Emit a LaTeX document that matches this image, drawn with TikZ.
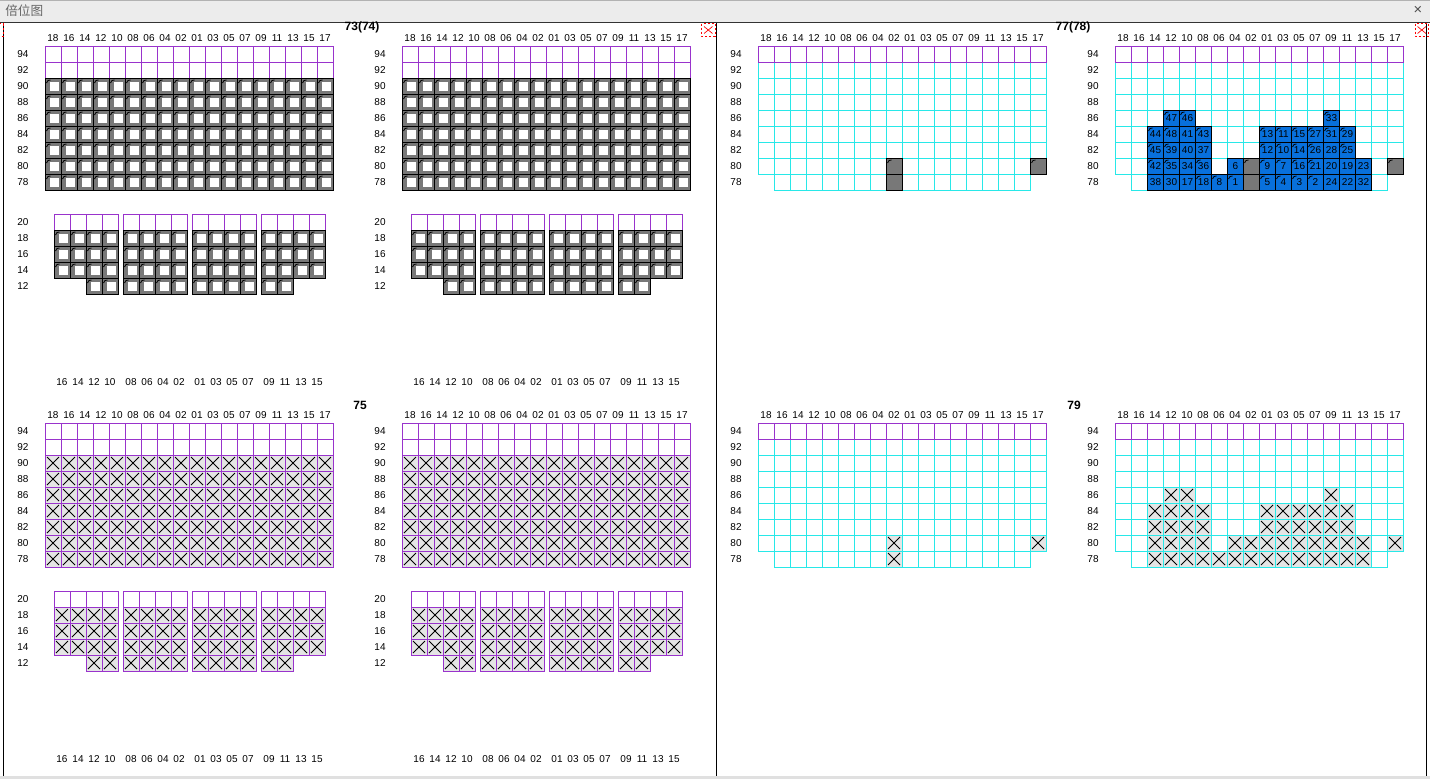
\documentclass[tikz,border=0pt]{standalone}
\usepackage{fontspec}
\setmainfont{Liberation Sans}
\newfontfamily\cjkfont{Noto Sans CJK SC}

\definecolor{bayviolet}{RGB}{153,51,204}
\definecolor{baycyan}{RGB}{40,232,232}
\definecolor{baygray}{RGB}{120,120,120}
\definecolor{bayblue}{RGB}{8,112,220}
\definecolor{barbg}{RGB}{236,236,236}

\tikzset{
  emptycell/.style={draw=bayviolet, fill=white, line width=0.75pt},
  slotcell/.style={draw=baycyan, fill=white, line width=0.75pt},
  fullcell/.style={draw=black, fill=baygray, line width=0.75pt},
  bluecell/.style={draw=black, fill=bayblue, line width=0.75pt},
  lbl/.style={inner sep=0pt, font=\fontsize{7.5}{9}\selectfont},
  ttl/.style={inner sep=0pt, font=\bfseries\fontsize{9}{11}\selectfont},
  brokenimg/.style={draw=red, dash pattern=on 1.5pt off 1.5pt, line width=0.6pt},
}

% small hook in the top left corner of a cell
\newcommand{\marktick}[2]{\draw[black, line width=0.6pt] (#1+1.5,#2+5) -- (#1+3,#2+2.5) -- (#1+5.5,#2+2);}
% loaded slot: gray with white square
\newcommand{\loadedcell}[2]{%
  \draw[fullcell] (#1,#2) rectangle ++(16,16);
  \fill[white] (#1+4.5,#2+3.5) rectangle ++(9,9.5);
  \marktick{#1}{#2}}
% blocked slot: cross
\newcommand{\crosscell}[3][bayviolet]{%
  \draw[draw=#1, fill=black!10, line width=0.75pt] (#2,#3) rectangle ++(16,16);
  \draw[black, line width=0.6pt] (#2+2,#3+2) -- ++(12,12) (#2+14,#3+2) -- ++(-12,12);}

% deck bay, rows 94 to 78
\newcommand{\fullbay}[3]{%
  \foreach \i in {0,...,17} {\foreach \j in {0,1} {\draw[emptycell] (#1+16*\i,#2+16*\j) rectangle ++(16,16);}}
  \foreach \i in {0,...,17} {\foreach \j in {2,...,8} {#3{#1+16*\i}{#2+16*\j}}}}
% open bay, cyan slots
\newcommand{\openbay}[2]{%
  \foreach \i in {0,...,17} {\foreach \j in {1,...,7} {\draw[slotcell] (#1+16*\i,#2+16*\j) rectangle ++(16,16);}}
  \foreach \i in {1,...,16} {\draw[slotcell] (#1+16*\i,#2+128) rectangle ++(16,16);}
  \foreach \i in {0,...,17} {\draw[emptycell] (#1+16*\i,#2) rectangle ++(16,16);}}
% hold, rows 20 to 12
\newcommand{\holdblock}[3]{%
  \foreach \g in {0,...,3} {\foreach \k in {0,...,3} {
    \pgfmathsetmacro\hx{#1+9+69*\g+16*\k}
    \draw[emptycell] (\hx,#2+168) rectangle ++(16,16);
    \foreach \j in {1,2,3} {#3{\hx}{#2+168+16*\j}}}}
  \foreach \g/\k in {0/2,0/3,1/0,1/1,1/2,1/3,2/0,2/1,2/2,2/3,3/0,3/1} {
    \pgfmathsetmacro\hx{#1+9+69*\g+16*\k}
    #3{\hx}{#2+232}}}
% labels
\newcommand{\baylabels}[3]{%
  \foreach \c [count=\i from 0] in {18,16,14,12,10,08,06,04,02,01,03,05,07,09,11,13,15,17}
    {\node[lbl] (#3-c\i) at (#1+8+16*\i,#2-8) {\c};}
  \foreach \r [count=\j from 0] in {94,92,90,88,86,84,82,80,78}
    {\node[lbl] (#3-r\j) at (#1-22,#2+8+16*\j) {\r};}}
\newcommand{\holdlabels}[3]{%
  \foreach \r [count=\j from 0] in {20,18,16,14,12}
    {\node[lbl] (#3-h\j) at (#1-22,#2+176+16*\j) {\r};}
  \foreach \c [count=\i from 0] in {16,14,12,10,08,06,04,02,01,03,05,07,09,11,13,15} {
    \pgfmathsetmacro\hx{#1+9+69*int(\i/4)+16*mod(\i,4)+8}
    \node[lbl] (#3-b\i) at (\hx,#2+336) {\c};}}

% column/row/number/hook of the planned slots
\newcommand{\bluelist}{3/4/47/1,4/4/46/1,13/4/33/1,
  2/5/44/1,3/5/48/1,4/5/41/0,5/5/43/1,9/5/13/1,10/5/11/1,11/5/15/1,12/5/27/1,13/5/31/1,14/5/29/1,
  2/6/45/1,3/6/39/1,4/6/40/0,5/6/37/0,9/6/12/1,10/6/10/1,11/6/14/1,12/6/26/1,13/6/28/0,14/6/25/1,
  2/7/42/1,3/7/35/1,4/7/34/0,5/7/36/1,7/7/6/0,9/7/9/1,10/7/7/1,11/7/16/1,12/7/21/1,13/7/20/0,14/7/19/0,15/7/23/0,
  2/8/38/0,3/8/30/0,4/8/17/0,5/8/18/1,6/8/8/1,7/8/1/1,9/8/5/1,10/8/4/1,11/8/3/1,12/8/2/1,13/8/24/0,14/8/22/0,15/8/32/0}

\begin{document}
\begin{tikzpicture}[x=0.75pt,y=-0.75pt]
  \useasboundingbox (0,0) rectangle (1430,779);

  % window
  \fill[barbg] (0,0) rectangle (1430,22);
  \draw[black!30] (0,0.5) -- (1430,0.5);
  \node[anchor=west, inner sep=0pt, text=black!60, font=\cjkfont\fontsize{9.5}{11}\selectfont] (bartitle) at (5,11) {倍位图};
  \node[inner sep=0pt, text=black!70, font=\fontsize{11}{12}\selectfont] (barclose) at (1418,10.5) {×};
  \draw[black!80] (0,22.5) -- (1430,22.5);
  \draw[black, line width=1.2pt] (3.5,22.5) -- (3.5,776);
  \draw[black, line width=0.9pt] (716.5,22.5) -- (716.5,776);
  \draw[black, line width=0.9pt] (1426.5,22.5) -- (1426.5,776);
  \fill[black!12] (0,776) rectangle (1430,779);

  \draw[brokenimg] (-10,23.5) rectangle (3,36);
  \draw[brokenimg] (701.5,23.5) rectangle (715,36);
  \draw[red, line width=0.5pt] (704,26.5) -- (712.5,33.5) (712.5,26.5) -- (704,33.5);
  \draw[brokenimg] (1415,23.5) rectangle (1428.5,36);
  \draw[red, line width=0.5pt] (1417.5,26.5) -- (1426,33.5) (1426,26.5) -- (1417.5,33.5);

  % 73(74)
  \node[ttl] (t7374) at (362,27.5) {73(74)};
  \fullbay{45}{46}{\loadedcell}
  \holdblock{45}{46}{\loadedcell}
  \baylabels{45}{46}{A}
  \holdlabels{45}{46}{A}
  \fullbay{402}{46}{\loadedcell}
  \holdblock{402}{46}{\loadedcell}
  \baylabels{402}{46}{B}
  \holdlabels{402}{46}{B}

  % 75
  \node[ttl] (t75) at (360,405) {75};
  \fullbay{45}{423}{\crosscell}
  \holdblock{45}{423}{\crosscell}
  \baylabels{45}{423}{C}
  \holdlabels{45}{423}{C}
  \fullbay{402}{423}{\crosscell}
  \holdblock{402}{423}{\crosscell}
  \baylabels{402}{423}{D}
  \holdlabels{402}{423}{D}

  % 77(78)
  \node[ttl] (t7778) at (1073,27.5) {77(78)};
  \openbay{758}{46}
  \baylabels{758}{46}{E}
  \foreach \i/\j/\tk in {8/7/1,8/8/0,17/7/1} {
    \draw[fullcell] (758+16*\i,46+16*\j) rectangle ++(16,16);
    \ifnum\tk=1 \marktick{758+16*\i}{46+16*\j}\fi}
  \openbay{1115}{46}
  \baylabels{1115}{46}{F}
  \foreach \i/\j/\tk in {8/7/1,8/8/0,17/7/1} {
    \draw[fullcell] (1115+16*\i,46+16*\j) rectangle ++(16,16);
    \ifnum\tk=1 \marktick{1115+16*\i}{46+16*\j}\fi}
  \foreach \i/\j/\lab/\tk in \bluelist {
    \draw[bluecell] (1115+16*\i,46+16*\j) rectangle ++(16,16);
    \node[lbl] (F-n\lab) at (1115+16*\i+8.5,46+16*\j+8.5) {\lab};
    \ifnum\tk=1 \marktick{1115+16*\i}{46+16*\j}\fi}

  % 79
  \node[ttl] (t79) at (1074,405) {79};
  \openbay{758}{423}
  \baylabels{758}{423}{G}
  \foreach \i/\j in {8/7,8/8,17/7} {\crosscell[baycyan]{758+16*\i}{423+16*\j}}
  \openbay{1115}{423}
  \baylabels{1115}{423}{H}
  \foreach \i/\j in {8/7,8/8,17/7} {\crosscell[baycyan]{1115+16*\i}{423+16*\j}}
  \foreach \i/\j/\lab/\tk in \bluelist {\crosscell[baycyan]{1115+16*\i}{423+16*\j}}
\end{tikzpicture}
\end{document}
